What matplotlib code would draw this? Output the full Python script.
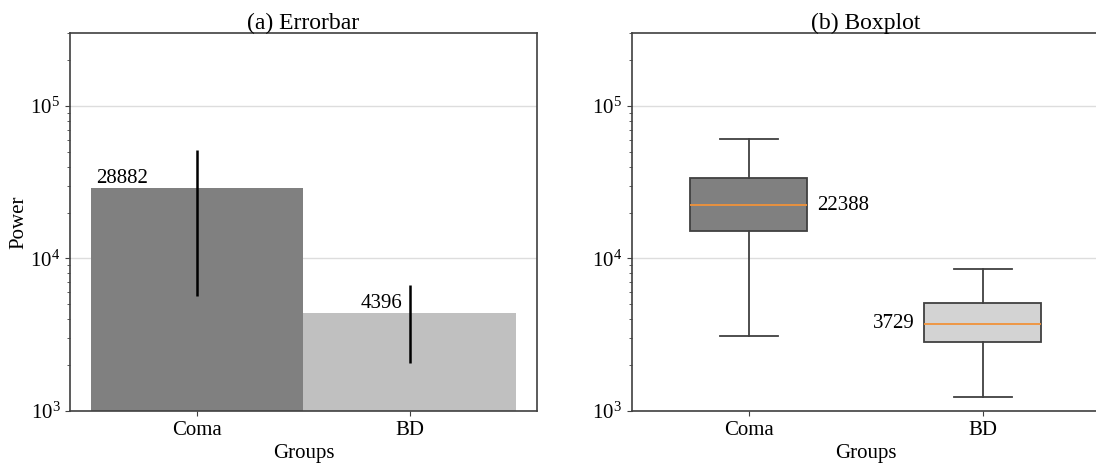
import matplotlib
matplotlib.use("Agg")
import matplotlib.pyplot as plt

# ---- data ----
groups = ["Coma", "BD"]
mean_power = [28882, 4396]
err_lower = [23220, 2325]
err_upper = [22860, 2320]

box_median = [22388, 3729]
box_q1 = [15160, 2851]
box_q3 = [33420, 5118]
whisker_low = [3090, 1242]
whisker_high = [60700, 8555]

bar_colors = ["#808080", "#c0c0c0"]
box_colors = ["#808080", "#d3d3d3"]

plt.rcParams["font.family"] = ["Liberation Serif", "DejaVu Serif"]
plt.rcParams["mathtext.fontset"] = "stix"

LABEL_FS = 15
TITLE_FS = 17
SPINE = "#404040"

fig = plt.figure(figsize=(10.96, 4.66), dpi=100)
ax1 = fig.add_axes([0.0639, 0.118, 0.426, 0.811])
ax2 = fig.add_axes([0.5766, 0.118, 0.427, 0.811])


def style_axes(ax):
    ax.set_yscale("log")
    ax.set_ylim(1e3, 3e5)
    ax.grid(axis="y", which="major", color="#dddddd", linewidth=1.0)
    ax.set_axisbelow(True)
    for s in ax.spines.values():
        s.set_color(SPINE)
        s.set_linewidth(1.2)
    ax.tick_params(axis="both", which="both", colors=SPINE, labelcolor="black",
                   labelsize=LABEL_FS)
    ax.tick_params(axis="x", which="minor", bottom=False)
    ax.set_xlabel("Groups", fontsize=LABEL_FS, labelpad=3)


# (a) bars with error bars
x = list(range(len(groups)))
ax1.bar(x, mean_power, width=1.0, color=bar_colors,
        yerr=[err_lower, err_upper], ecolor="black",
        error_kw=dict(elinewidth=1.8), zorder=2)
ax1.set_xlim(-0.6, 1.6)
ax1.set_xticks(x)
ax1.set_xticklabels(groups)
style_axes(ax1)
ax1.set_ylabel("Power", fontsize=LABEL_FS, labelpad=1)
ax1.set_title("(a) Errorbar", fontsize=TITLE_FS, pad=3)

ax1.text(x[0] - 0.475, mean_power[0], f"{mean_power[0]}", ha="left",
         va="bottom", fontsize=LABEL_FS)
ax1.text(x[1] - 0.035, mean_power[1], f"{mean_power[1]}", ha="right",
         va="bottom", fontsize=LABEL_FS)

# (b) boxplots from summary statistics
stats = []
for i, g in enumerate(groups):
    stats.append(dict(label=g, med=box_median[i], q1=box_q1[i], q3=box_q3[i],
                      whislo=whisker_low[i], whishi=whisker_high[i], fliers=[]))
positions = [1, 2]
bp = ax2.bxp(stats, positions=positions, widths=0.5, patch_artist=True,
             showfliers=False,
             boxprops=dict(edgecolor=SPINE, linewidth=1.3),
             whiskerprops=dict(color=SPINE, linewidth=1.3),
             capprops=dict(color=SPINE, linewidth=1.3),
             medianprops=dict(color="#f0923a", linewidth=1.3))
for patch, c in zip(bp["boxes"], box_colors):
    patch.set_facecolor(c)
ax2.set_xlim(0.5, 2.5)
style_axes(ax2)
ax2.set_title("(b) Boxplot", fontsize=TITLE_FS, pad=3)

ax2.text(positions[0] + 0.29, box_median[0], f"{box_median[0]}", ha="left",
         va="center", fontsize=LABEL_FS)
ax2.text(positions[1] - 0.29, box_median[1], f"{box_median[1]}", ha="right",
         va="center", fontsize=LABEL_FS)

fig.savefig("out.png", dpi=100)
